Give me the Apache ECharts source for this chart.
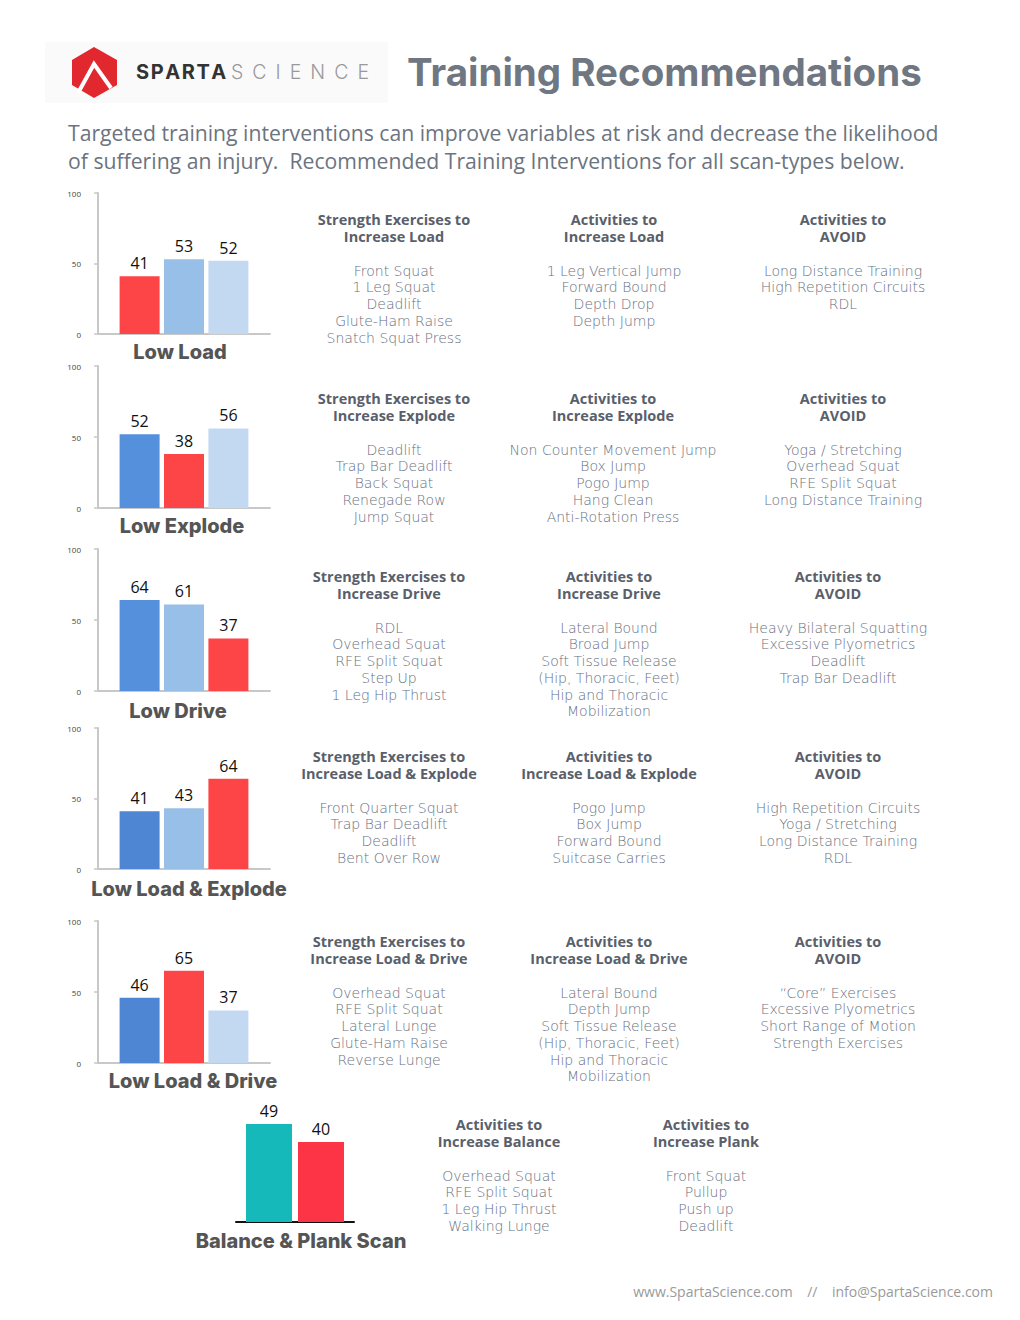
<!DOCTYPE html>
<html>
<head>
<meta charset="utf-8">
<script src="https://cdn.jsdelivr.net/npm/echarts@6/dist/echarts.min.js"></script>
<style>
html,body{margin:0;padding:0;background:#fff;}
#c{width:1020px;height:1320px;}
</style>
</head>
<body>
<div id="c"></div>
<script>
// ---------- DATA ----------
const pageTitle = 'Training Recommendations';
const introLines = [
  'Targeted training interventions can improve variables at risk and decrease the likelihood',
  'of suffering an injury.  Recommended Training Interventions for all scan-types below.'
];
const footerText = 'www.SpartaScience.com    //    info@SpartaScience.com';
const brandBold = 'SPARTA';
const brandLight = 'SCIENCE';

const panelTitles = ['Low Load', 'Low Explode', 'Low Drive', 'Low Load & Explode', 'Low Load & Drive', 'Balance & Plank Scan'];
const seriesNames = ['Load', 'Explode', 'Drive'];
const lowLoadValues = [41, 53, 52];
const lowExplodeValues = [52, 38, 56];
const lowDriveValues = [64, 61, 37];
const lowLoadExplodeValues = [41, 43, 64];
const lowLoadDriveValues = [46, 65, 37];
const balancePlankNames = ['Balance', 'Plank'];
const balancePlankValues = [49, 40];

const row1 = [
  { head: ['Strength Exercises to', 'Increase Load'], items: ['Front Squat', '1 Leg Squat', 'Deadlift', 'Glute-Ham Raise', 'Snatch Squat Press'] },
  { head: ['Activities to', 'Increase Load'], items: ['1 Leg Vertical Jump', 'Forward Bound', 'Depth Drop', 'Depth Jump'] },
  { head: ['Activities to', 'AVOID'], items: ['Long Distance Training', 'High Repetition Circuits', 'RDL'] }
];
const row2 = [
  { head: ['Strength Exercises to', 'Increase Explode'], items: ['Deadlift', 'Trap Bar Deadlift', 'Back Squat', 'Renegade Row', 'Jump Squat'] },
  { head: ['Activities to', 'Increase Explode'], items: ['Non Counter Movement Jump', 'Box Jump', 'Pogo Jump', 'Hang Clean', 'Anti-Rotation Press'] },
  { head: ['Activities to', 'AVOID'], items: ['Yoga / Stretching', 'Overhead Squat', 'RFE Split Squat', 'Long Distance Training'] }
];
const row3 = [
  { head: ['Strength Exercises to', 'Increase Drive'], items: ['RDL', 'Overhead Squat', 'RFE Split Squat', 'Step Up', '1 Leg Hip Thrust'] },
  { head: ['Activities to', 'Increase Drive'], items: ['Lateral Bound', 'Broad Jump', 'Soft Tissue Release', '(Hip, Thoracic, Feet)', 'Hip and Thoracic', 'Mobilization'] },
  { head: ['Activities to', 'AVOID'], items: ['Heavy Bilateral Squatting', 'Excessive Plyometrics', 'Deadlift', 'Trap Bar Deadlift'] }
];
const row4 = [
  { head: ['Strength Exercises to', 'Increase Load & Explode'], items: ['Front Quarter Squat', 'Trap Bar Deadlift', 'Deadlift', 'Bent Over Row'] },
  { head: ['Activities to', 'Increase Load & Explode'], items: ['Pogo Jump', 'Box Jump', 'Forward Bound', 'Suitcase Carries'] },
  { head: ['Activities to', 'AVOID'], items: ['High Repetition Circuits', 'Yoga / Stretching', 'Long Distance Training', 'RDL'] }
];
const row5 = [
  { head: ['Strength Exercises to', 'Increase Load & Drive'], items: ['Overhead Squat', 'RFE Split Squat', 'Lateral Lunge', 'Glute-Ham Raise', 'Reverse Lunge'] },
  { head: ['Activities to', 'Increase Load & Drive'], items: ['Lateral Bound', 'Depth Jump', 'Soft Tissue Release', '(Hip, Thoracic, Feet)', 'Hip and Thoracic', 'Mobilization'] },
  { head: ['Activities to', 'AVOID'], items: ['\u201CCore\u201D Exercises', 'Excessive Plyometrics', 'Short Range of Motion', 'Strength Exercises'] }
];
const row6 = [
  { head: ['Activities to', 'Increase Balance'], items: ['Overhead Squat', 'RFE Split Squat', '1 Leg Hip Thrust', 'Walking Lunge'] },
  { head: ['Activities to', 'Increase Plank'], items: ['Front Squat', 'Pullup', 'Push up', 'Deadlift'] }
];

// ---------- STYLES / LAYOUT ----------
const RED = '#fd4446', BLUE = '#5490db', MID = '#97bfe8', LIGHT = '#c3d9f2', TEAL = '#16b9b9', RED2 = '#fd3446';
const panelColors = [
  [RED, MID, LIGHT],
  [BLUE, RED, LIGHT],
  [BLUE, MID, RED],
  ['#4f86d4', MID, RED],
  ['#4f86d4', RED, LIGHT],
  [TEAL, RED2]
];
const panelValues = [lowLoadValues, lowExplodeValues, lowDriveValues, lowLoadExplodeValues, lowLoadDriveValues];
const gridBoxes = [
  { left: 98, top: 193, width: 172, height: 141 },
  { left: 98, top: 366, width: 172, height: 142 },
  { left: 98, top: 549, width: 172, height: 142 },
  { left: 98, top: 728, width: 172, height: 141 },
  { left: 98, top: 921, width: 172, height: 142 },
  { left: 236, top: 1022, width: 118, height: 200 }
];
const titlePos = [[180, 352], [182, 526], [178, 711], [189, 889], [193, 1081], [301, 1241]];
const rows = [row1, row2, row3, row4, row5, row6];
const rowHeadY = [219, 398, 576, 756, 941, 1124];
const rowColX = [[394, 614, 843], [394, 613, 843], [389, 609, 838], [389, 609, 838], [389, 609, 838], [499, 706]];
const HEAD_LH = 17, ITEM_LH = 16.75, ITEM_OFFSET = 51.5;

const FONT = '"Open Sans", "DejaVu Sans", sans-serif';
const ITEM_FONT = '"DejaVu Sans", "Open Sans", sans-serif';
const BOLD_FONT = 'Inter, Roboto, sans-serif';

const grids = [], xAxes = [], yAxes = [], series = [];
gridBoxes.forEach((g, i) => {
  grids.push(Object.assign({ containLabel: false }, g));
  const last = i === 5;
  xAxes.push({
    gridIndex: i, type: 'category', data: [''],
    axisLine: { show: true, lineStyle: { color: last ? '#111' : '#c8c8c8', width: 2 } },
    axisTick: { show: false }, axisLabel: { show: false }, splitLine: { show: false }
  });
  yAxes.push({
    gridIndex: i, type: 'value', min: 0, max: 100, interval: 50, show: !last,
    axisLine: { show: true, lineStyle: { color: '#c8c8c8', width: 2 } },
    axisTick: { show: true, length: 4, lineStyle: { color: '#c8c8c8', width: 1.5 } },
    axisLabel: { show: true, fontSize: 8, color: '#444', margin: 17, fontFamily: FONT },
    splitLine: { show: false }
  });
  const vals = last ? balancePlankValues : panelValues[i];
  const names = last ? balancePlankNames : seriesNames;
  vals.forEach((v, k) => {
    series.push({
      type: 'bar', name: panelTitles[i] + ' ' + names[k],
      xAxisIndex: i, yAxisIndex: i,
      data: [v],
      barWidth: last ? 46 : 40,
      barGap: last ? '13%' : '11%',
      itemStyle: { color: panelColors[i][k] },
      label: { show: true, position: 'top', distance: 5, fontSize: 16, color: '#111', fontFamily: FONT },
      silent: true, animation: false
    });
  });
});

// ---------- GRAPHIC TEXT ----------
const graphics = [];
graphics.push({ type: 'rect', shape: { x: 45, y: 42, width: 343, height: 61 }, style: { fill: '#fafafa' }, silent: true });
graphics.push({ type: 'polygon', shape: { points: [[94, 47], [117, 60], [117, 85], [94, 98], [72, 85], [72, 60]] }, style: { fill: '#e0282e' }, silent: true });
graphics.push({ type: 'polyline', shape: { points: [[78, 93], [94, 64], [111, 88]] }, style: { stroke: '#fff', lineWidth: 4, fill: null }, silent: true });
graphics.push({ type: 'text', x: 136, y: 72, style: { text: brandBold.split('').join('\u200A'), fontFamily: 'Inter, sans-serif', fontWeight: 700, fontSize: 20, fill: '#333', textVerticalAlign: 'middle' }, silent: true });
graphics.push({ type: 'text', x: 231, y: 72, style: { text: brandLight.split('').join(' \u2009'), fontFamily: 'Inter, sans-serif', fontWeight: 300, fontSize: 19.5, fill: '#999', textVerticalAlign: 'middle' }, silent: true });

graphics.push({ type: 'text', x: 407, y: 72, style: { text: pageTitle, fontFamily: BOLD_FONT, fontWeight: 700, fontSize: 38.5, fill: '#6f7782', textVerticalAlign: 'middle' }, silent: true });
graphics.push({ type: 'text', x: 68, y: 132 - 14.25, style: { text: introLines.join('\n'), fontFamily: FONT, fontSize: 21.2, lineHeight: 28.5, fill: '#6b7480', textVerticalAlign: 'top' }, silent: true });

panelTitles.forEach((t, i) => {
  graphics.push({ type: 'text', x: titlePos[i][0], y: titlePos[i][1], style: { text: t, fontFamily: BOLD_FONT, fontWeight: 800, fontSize: 20, fill: '#555', textAlign: 'center', textVerticalAlign: 'middle' }, silent: true });
});

rows.forEach((row, r) => {
  row.forEach((col, c) => {
    const x = rowColX[r][c];
    graphics.push({ type: 'text', x: x, y: rowHeadY[r] - HEAD_LH / 2, style: { text: col.head.join('\n'), fontFamily: FONT, fontWeight: 700, fontSize: 14.5, lineHeight: HEAD_LH, fill: '#59606b', textAlign: 'center', textVerticalAlign: 'top' }, silent: true });
    graphics.push({ type: 'text', x: x, y: rowHeadY[r] + ITEM_OFFSET - ITEM_LH / 2, style: { text: col.items.join('\n'), fontFamily: ITEM_FONT, fontWeight: 200, fontSize: 14, lineHeight: ITEM_LH, fill: '#677080', textAlign: 'center', textVerticalAlign: 'top' }, silent: true });
  });
});

graphics.push({ type: 'text', x: 993, y: 1291, style: { text: footerText, fontFamily: FONT, fontSize: 14, fill: '#9a9a9a', textAlign: 'right', textVerticalAlign: 'middle' }, silent: true });

const chart = echarts.init(document.getElementById('c'), null, { renderer: 'svg', width: 1020, height: 1320 });
chart.setOption({
  backgroundColor: '#fff',
  animation: false,
  grid: grids, xAxis: xAxes, yAxis: yAxes, series: series,
  graphic: { elements: graphics }
});
</script>
</body>
</html>
